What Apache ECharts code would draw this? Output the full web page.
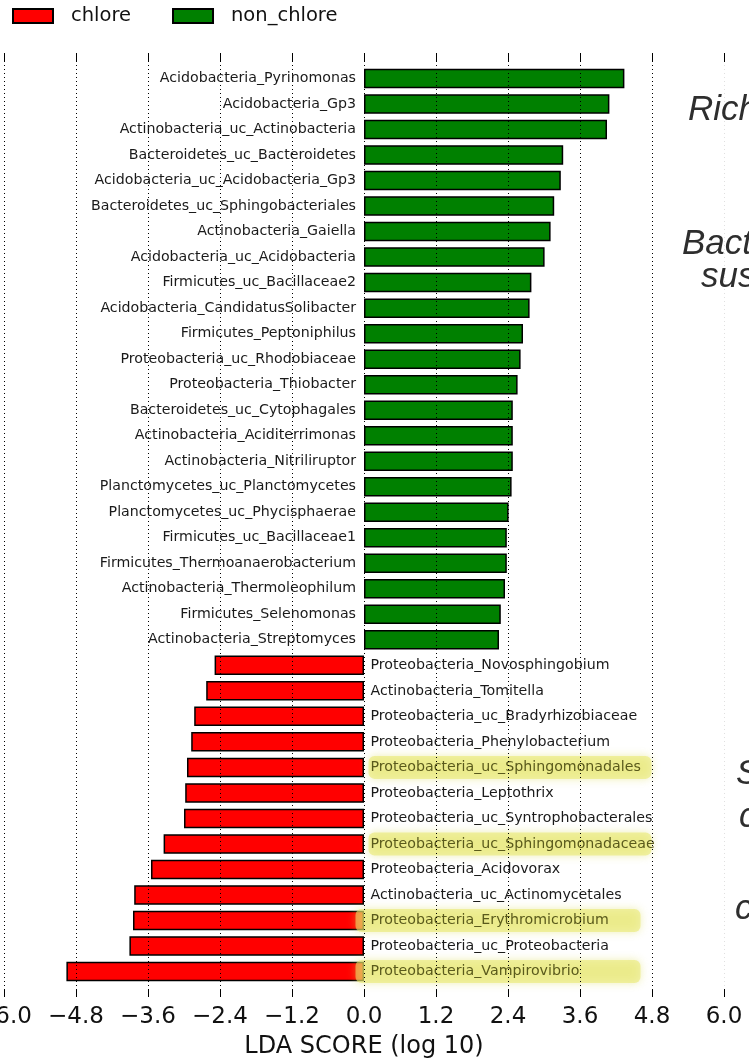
<!DOCTYPE html>
<html>
<head>
<meta charset="utf-8">
<script src="https://cdn.jsdelivr.net/npm/echarts@6/dist/echarts.min.js"></script>
<style>html,body{margin:0;padding:0;background:#fff;}#c{width:749px;height:1062px;}</style>
</head>
<body>
<div id="c"></div>
<script>
const nonChloreNames = [
  'Acidobacteria_Pyrinomonas','Acidobacteria_Gp3','Actinobacteria_uc_Actinobacteria',
  'Bacteroidetes_uc_Bacteroidetes','Acidobacteria_uc_Acidobacteria_Gp3','Bacteroidetes_uc_Sphingobacteriales',
  'Actinobacteria_Gaiella','Acidobacteria_uc_Acidobacteria','Firmicutes_uc_Bacillaceae2',
  'Acidobacteria_CandidatusSolibacter','Firmicutes_Peptoniphilus','Proteobacteria_uc_Rhodobiaceae',
  'Proteobacteria_Thiobacter','Bacteroidetes_uc_Cytophagales','Actinobacteria_Aciditerrimonas',
  'Actinobacteria_Nitriliruptor','Planctomycetes_uc_Planctomycetes','Planctomycetes_uc_Phycisphaerae',
  'Firmicutes_uc_Bacillaceae1','Firmicutes_Thermoanaerobacterium','Actinobacteria_Thermoleophilum',
  'Firmicutes_Selenomonas','Actinobacteria_Streptomyces'
];
const nonChloreValues = [4.34,4.09,4.05,3.32,3.28,3.17,3.11,3.01,2.79,2.76,2.65,2.61,2.56,2.48,2.48,2.48,2.46,2.41,2.38,2.38,2.35,2.28,2.25];
const chloreNames = [
  'Proteobacteria_Novosphingobium','Actinobacteria_Tomitella','Proteobacteria_uc_Bradyrhizobiaceae',
  'Proteobacteria_Phenylobacterium','Proteobacteria_uc_Sphingomonadales','Proteobacteria_Leptothrix',
  'Proteobacteria_uc_Syntrophobacterales','Proteobacteria_uc_Sphingomonadaceae','Proteobacteria_Acidovorax',
  'Actinobacteria_uc_Actinomycetales','Proteobacteria_Erythromicrobium','Proteobacteria_uc_Proteobacteria',
  'Proteobacteria_Vampirovibrio'
];
const chloreValues = [-2.49,-2.63,-2.83,-2.88,-2.95,-2.98,-3.00,-3.34,-3.55,-3.83,-3.85,-3.91,-4.96];
const highlightNear = ['Proteobacteria_uc_Sphingomonadales','Proteobacteria_uc_Sphingomonadaceae'];
const highlightWide = ['Proteobacteria_Erythromicrobium','Proteobacteria_Vampirovibrio'];
const xMin = -6.0, xMax = 6.0, xStep = 1.2;
const legendNames = ['chlore','non_chlore'];
const sideTexts = [
  {t:'Rich', x:688, y:125}, {t:'Bact', x:682, y:259}, {t:'sus', x:701, y:292},
  {t:'S', x:736, y:789}, {t:'c', x:739, y:832}, {t:'c', x:735, y:924}
];

const categories = [' '].concat(nonChloreNames, chloreNames, ['  ']);
const nG = nonChloreNames.length, nR = chloreNames.length;
const greenData = [null].concat(nonChloreValues, new Array(nR).fill(null), [null]);
const hiStyle = {lineHeight: 17, backgroundColor: 'rgba(232,232,110,0.58)', borderRadius: 6, shadowBlur: 8,
  shadowColor: 'rgba(215,215,70,0.7)', color: '#5a5a1c'};
const redData = [null].concat(new Array(nG).fill(null), chloreValues.map((v, i) => {
  const name = chloreNames[i];
  if (highlightNear.includes(name)) {
    return {value: v, label: Object.assign({distance: 4.5, padding: [3,4,3,2], width: 277}, hiStyle)};
  }
  if (highlightWide.includes(name)) {
    return {value: v, label: Object.assign({distance: -8.5, padding: [3,4,3,15], width: 266}, hiStyle)};
  }
  return v;
}), [null]);

const fmt = v => (v < 0 ? '\u2212' : '') + Math.abs(v).toFixed(1);
const F = 'DejaVu Sans';
const chart = echarts.init(document.getElementById('c'), null, {renderer: 'canvas'});
chart.setOption({
  animation: false,
  backgroundColor: '#fff',
  legend: {
    data: legendNames, left: 7, top: 1, icon: 'rect', itemWidth: 40, itemHeight: 14, itemGap: 41,
    textStyle: {fontFamily: F, fontSize: 19.5, color: '#111', padding: [0,0,0,13]}
  },
  grid: {left: 4, right: 25, top: 53, bottom: 65, containLabel: false, outerBoundsMode: 'none'},
  xAxis: [{
    type: 'value', min: xMin, max: xMax, interval: xStep, position: 'bottom', z: 10,
    axisLine: {show: false},
    axisTick: {show: true, inside: true, length: 8, lineStyle: {color: '#000', width: 1}},
    axisLabel: {formatter: fmt, fontFamily: F, fontSize: 23, color: '#111', margin: 9, showMinLabel: true, showMaxLabel: true, hideOverlap: false},
    splitLine: {show: true, lineStyle: {color: ['#000','#000','#000','#000','#000','#000','#000','#000','#000','#000','rgba(0,0,0,0.12)'], type: [1,3], width: 1}},
    name: 'LDA SCORE (log 10)', nameLocation: 'middle', nameGap: 38,
    nameTextStyle: {fontFamily: F, fontSize: 24, color: '#111'}
  }, {
    type: 'value', min: xMin, max: xMax, interval: xStep, position: 'top', z: 10,
    axisLine: {show: false},
    axisTick: {show: true, inside: true, length: 9, lineStyle: {color: '#000', width: 1}},
    axisLabel: {show: false}, splitLine: {show: false}
  }],
  yAxis: {
    type: 'category', data: categories, inverse: true, boundaryGap: false,
    axisLine: {show: false}, axisTick: {show: false}, axisLabel: {show: false}, splitLine: {show: false}
  },
  series: [{
    name: 'chlore', type: 'bar', data: redData, barWidth: 19.5, barGap: '-100%',
    itemStyle: {color: '#ff0000', borderColor: '#000', borderWidth: 1.5},
    label: {show: true, position: 'right', distance: 6.5, formatter: '{b}', fontFamily: F, fontSize: 14.2, color: '#1a1a1a'}
  }, {
    name: 'non_chlore', type: 'bar', data: greenData, barWidth: 19.5, barGap: '-100%',
    itemStyle: {color: '#008000', borderColor: '#000', borderWidth: 1.5},
    label: {show: true, position: 'left', distance: 8, formatter: '{b}', fontFamily: F, fontSize: 14.2, color: '#1a1a1a'}
  }],
  graphic: sideTexts.map(s => ({
    type: 'text', left: s.x, top: s.y - 32, silent: true,
    style: {text: s.t, fontFamily: 'Liberation Sans', fontStyle: 'italic', fontSize: 35, fill: '#2e2e2e'}
  }))
});
</script>
</body>
</html>
